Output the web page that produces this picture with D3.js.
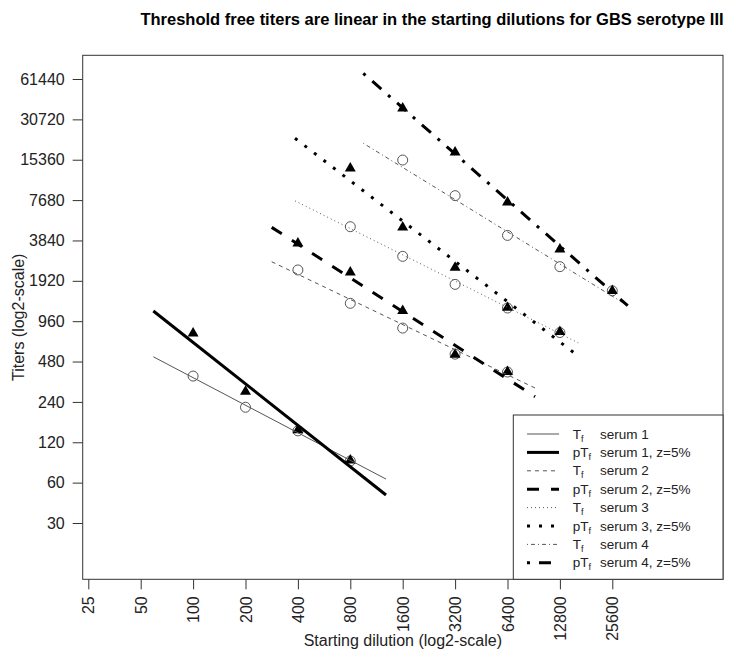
<!DOCTYPE html>
<html><head><meta charset="utf-8">
<script src="https://cdn.jsdelivr.net/npm/d3@7"></script>
<style>body{margin:0;background:#fff}svg{display:block;font-family:"Liberation Sans",Arial,sans-serif}</style>
</head><body><svg id="c" width="732" height="656"></svg>
<script>
// ---- data ----
const dilutionTicks = [25, 50, 100, 200, 400, 800, 1600, 3200, 6400, 12800, 25600];
const titerTicks = [30, 60, 120, 240, 480, 960, 1920, 3840, 7680, 15360, 30720, 61440];

const serum1X = [100, 200, 400, 800];
const serum1Tf = [374, 219, 146, 87];
const serum1pTf = [779, 286, 148, 88];

const serum2X = [400, 800, 1600, 3200, 6400];
const serum2Tf = [2313, 1305, 853, 545, 401];
const serum2pTf = [3652, 2223, 1149, 541, 403];

const serum3X = [800, 1600, 3200, 6400, 12800];
const serum3Tf = [4862, 2922, 1806, 1204, 790];
const serum3pTf = [13260, 4808, 2407, 1210, 801];

const serum4X = [1600, 3200, 6400, 12800, 25600];
const serum4Tf = [15280, 8289, 4188, 2448, 1618];
const serum4pTf = [37160, 17437, 7391, 3297, 1618];

// fitted lines: [x0, y0, x1, y1]
const fitTf = [[59.1, 521, 1283, 63.8], [282.8, 2664, 9208, 304.8], [385, 7576, 16330, 662], [950, 20386, 31390, 1253]];
const fitpTf = [[59.1, 1143, 1283, 48.5], [282.8, 4808, 9208, 262.6], [385, 22204, 16700, 515.5], [950, 67770, 31390, 1253]];

const legendLabels = ["serum 1", "serum 1, z=5%", "serum 2", "serum 2, z=5%", "serum 3", "serum 3, z=5%", "serum 4", "serum 4, z=5%"];

// ---- layout ----
const L = 82.7, R = 723, T = 55.3, B = 579.3;
const svg = d3.select("#c");
const x = d3.scaleLog().base(2).domain([25, 25600]).range([88.3, 612.3]);
const y = d3.scaleLog().base(2).domain([30, 61440]).range([523, 79]);

const dashThin = [null, "4,4", "1,3", "1,3,4,3"];
const dashThick = [null, "12,12", "3,9", "3,9,12,9"];
const thinColor = "#555", thinW = 1, thickW = 3;

// title
svg.append("text").attr("x", 432).attr("y", 25).attr("text-anchor", "middle")
  .attr("font-size", 16.5).attr("font-weight", "bold").text("Threshold free titers are linear in the starting dilutions for GBS serotype III");

// axes
const ya = svg.append("g").attr("transform", `translate(${L},0)`)
  .call(d3.axisLeft(y).tickValues(titerTicks).tickFormat(d3.format("d")).tickSize(10).tickPadding(8));
ya.select(".domain").remove();
ya.selectAll("text").attr("font-size", 16).attr("fill", "#222").attr("font-family", "Liberation Sans, Arial, sans-serif");
ya.selectAll("line").attr("stroke", "#333");

const xa = svg.append("g").attr("transform", `translate(0,${B})`)
  .call(d3.axisBottom(x).tickValues(dilutionTicks).tickFormat(d3.format("d")).tickSize(10).tickPadding(6));
xa.select(".domain").remove();
xa.selectAll("line").attr("stroke", "#333");
xa.selectAll("text").attr("font-size", 16).attr("fill", "#222").attr("font-family", "Liberation Sans, Arial, sans-serif")
  .attr("transform", "rotate(-90)").attr("text-anchor", "end").attr("x", -17).attr("y", 0).attr("dy", "0.35em");

svg.append("text").attr("x", (L + R) / 2).attr("y", 646).attr("text-anchor", "middle").attr("font-size", 16).attr("fill", "#222")
  .text("Starting dilution (log2-scale)");
svg.append("text").attr("transform", `translate(24,${(T + B) / 2}) rotate(-90)`).attr("text-anchor", "middle").attr("font-size", 16).attr("fill", "#222")
  .text("Titers (log2-scale)");

// box
svg.append("rect").attr("x", L).attr("y", T).attr("width", R - L).attr("height", B - T).attr("fill", "none").attr("stroke", "#333");

// points
const sera = [[serum1X, serum1Tf, serum1pTf], [serum2X, serum2Tf, serum2pTf], [serum3X, serum3Tf, serum3pTf], [serum4X, serum4Tf, serum4pTf]];
const gP = svg.append("g");
sera.forEach(([xs, tf]) => {
  gP.selectAll(null).data(xs.map((d, i) => [d, tf[i]])).enter().append("circle")
    .attr("cx", d => x(d[0])).attr("cy", d => y(d[1])).attr("r", 5)
    .attr("fill", "none").attr("stroke", "#555").attr("stroke-width", 1);
});
const tri = d3.symbol().type(d3.symbolTriangle).size(52);
sera.forEach(([xs, tf, ptf]) => {
  gP.selectAll(null).data(xs.map((d, i) => [d, ptf[i]])).enter().append("path")
    .attr("d", tri).attr("transform", d => `translate(${x(d[0])},${y(d[1])})`).attr("fill", "#000");
});

// fitted lines
const gL = svg.append("g");
fitTf.forEach((f, i) => {
  gL.append("line").attr("x1", x(f[0])).attr("y1", y(f[1])).attr("x2", x(f[2])).attr("y2", y(f[3]))
    .attr("stroke", thinColor).attr("stroke-width", thinW).attr("stroke-dasharray", dashThin[i]);
});
fitpTf.forEach((f, i) => {
  gL.append("line").attr("x1", x(f[0])).attr("y1", y(f[1])).attr("x2", x(f[2])).attr("y2", y(f[3]))
    .attr("stroke", "#000").attr("stroke-width", thickW).attr("stroke-dasharray", dashThick[i]);
});

// legend
const lg = svg.append("g");
lg.append("rect").attr("x", 513.3).attr("y", 415).attr("width", R - 513.3).attr("height", B - 415).attr("fill", "#fff").attr("stroke", "#333");
legendLabels.forEach((lab, i) => {
  const yy = 434 + i * 18.4;
  const thick = i % 2 === 1, s = Math.floor(i / 2);
  lg.append("line").attr("x1", 527).attr("x2", 559).attr("y1", yy).attr("y2", yy)
    .attr("stroke", thick ? "#000" : thinColor).attr("stroke-width", thick ? thickW : thinW)
    .attr("stroke-dasharray", thick ? dashThick[s] : dashThin[s]);
  const t = lg.append("text").attr("x", 572.7).attr("y", yy + 4.5).attr("font-size", 13.5).attr("fill", "#222");
  t.append("tspan").text(thick ? "pT" : "T");
  t.append("tspan").attr("font-size", 9).attr("dy", 3).text("f");
  lg.append("text").attr("x", 600).attr("y", yy + 4.5).attr("font-size", 13.5).attr("fill", "#222").text(lab);
});
</script></body></html>
